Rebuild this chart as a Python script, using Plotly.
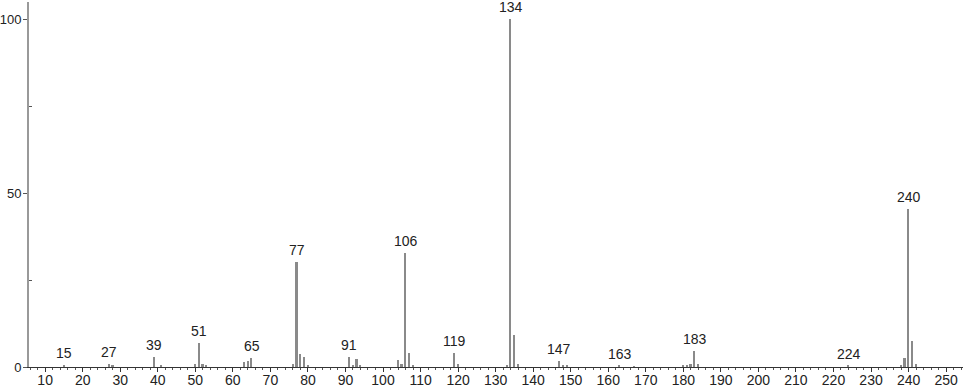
import plotly.graph_objects as go

# m/z values and relative intensities
mz = [15, 27, 28, 39, 41, 50, 51, 52, 53, 63, 64, 65, 76, 77, 78, 79, 80,
      91, 92, 93, 94, 104, 105, 106, 107, 108, 119, 120, 133, 134, 135, 136,
      147, 148, 149, 163, 167, 180, 181, 182, 183, 184, 224, 238, 239, 240, 241, 242]
intensity = [0.5, 1.0, 0.5, 2.8, 0.6, 1.0, 6.9, 1.0, 0.5, 1.4, 1.7, 2.5, 1.0, 30.2, 3.7, 3.0, 0.6,
             2.9, 0.5, 2.3, 0.4, 2.0, 1.0, 32.8, 4.0, 0.6, 4.0, 1.0, 0.5, 100.0, 9.2, 1.0,
             1.7, 0.4, 0.3, 0.3, 0.2, 0.5, 0.3, 1.0, 4.6, 1.0, 0.3, 0.4, 2.7, 45.5, 7.6, 1.0]
labeled = [15, 27, 39, 51, 65, 77, 91, 106, 119, 134, 147, 163, 183, 224, 240]

x_ticks = list(range(10, 251, 10))
y_ticks = [0, 50, 100]

FONT = "Liberation Sans"

fig = go.Figure()
fig.add_trace(go.Bar(x=mz, y=intensity, width=0.45,
                     marker=dict(color="#8a8a8a", line=dict(width=0)),
                     hoverinfo="x+y"))

lookup = dict(zip(mz, intensity))
for m in labeled:
    fig.add_annotation(x=m, y=lookup[m], text=str(m), showarrow=False,
                       yanchor="bottom", yshift=2,
                       font=dict(family=FONT, size=14, color="#222222"))

fig.update_layout(
    width=966, height=389,
    margin=dict(l=29, r=3, t=2, b=22, autoexpand=False),
    paper_bgcolor="white", plot_bgcolor="white",
    showlegend=False, bargap=0,
    font=dict(family=FONT, size=14, color="#222222"),
)
fig.update_xaxes(
    range=[5.7, 254.5], tickvals=x_ticks, ticktext=[str(v) for v in x_ticks],
    automargin=False,
    showgrid=False, zeroline=False, showline=True, linecolor="#333333", linewidth=1,
    ticks="outside", ticklen=4, tickcolor="#333333", tickwidth=1, ticklabelstandoff=-4,
    minor=dict(dtick=2, tick0=0, ticks="outside", ticklen=2, tickcolor="#555555", showgrid=False),
    tickfont=dict(size=14),
)
fig.update_yaxes(
    range=[0, 105], tickvals=y_ticks, ticktext=[str(v) for v in y_ticks],
    automargin=False,
    showgrid=False, zeroline=False, showline=True, linecolor="#999999", linewidth=2,
    ticks="outside", ticklen=4, tickcolor="#555555", tickwidth=1, ticklabelstandoff=-1,
    minor=dict(tickvals=[25, 75], ticks="inside", ticklen=3, tickcolor="#555555", showgrid=False),
    tickfont=dict(size=13),
)

fig.write_html("out.html")
